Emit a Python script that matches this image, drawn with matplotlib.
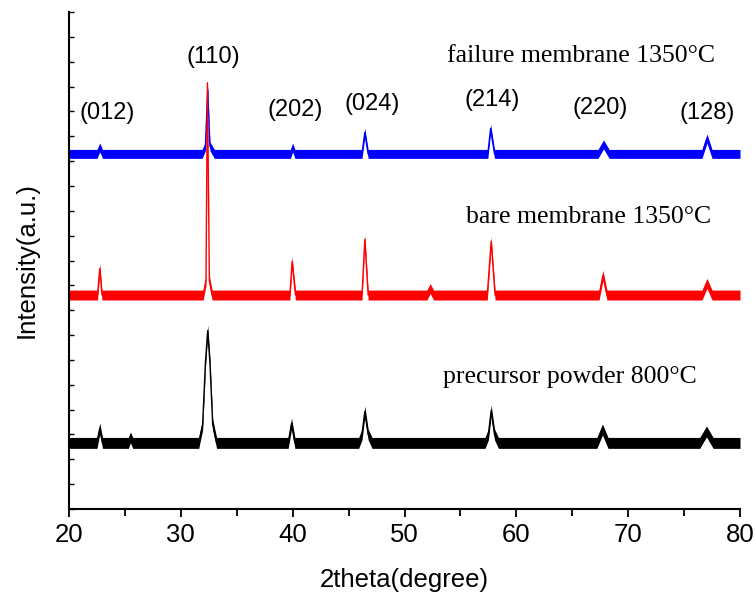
import matplotlib
matplotlib.use("Agg")
import matplotlib.pyplot as plt
from matplotlib.ticker import MultipleLocator

# ---------------- data ----------------
# failure membrane 1350 C (blue)
fail_x = [20.0, 22.5, 22.75, 23.0, 31.9, 32.2, 32.4, 32.6, 33.0, 39.8, 40.0, 40.2,
          46.2, 46.45, 46.75, 57.45, 57.7, 58.05, 67.3, 67.8, 68.3, 76.6, 77.05, 77.5, 80.0]
fail_y = [14.29, 14.29, 14.55, 14.29, 14.29, 14.6, 16.85, 14.6, 14.29, 14.29, 14.55, 14.29,
          14.29, 15.15, 14.29, 14.29, 15.31, 14.29, 14.29, 14.67, 14.29, 14.29, 14.91, 14.29, 14.29]

# bare membrane 1350 C (red)
bare_x = [20.0, 22.55, 22.75, 22.95, 32.0, 32.25, 32.38, 32.55, 32.8, 39.75, 39.95, 40.25,
          46.2, 46.45, 46.75, 52.0, 52.3, 52.6, 57.4, 57.75, 58.1, 67.4, 67.75, 68.1,
          76.6, 77.05, 77.5, 80.0]
bare_y = [8.61, 8.61, 9.68, 8.61, 8.61, 9.2, 17.15, 9.2, 8.61, 8.61, 9.96, 8.61,
          8.61, 10.85, 8.61, 8.61, 8.87, 8.61, 8.61, 10.77, 8.61, 8.61, 9.40, 8.61,
          8.61, 9.08, 8.61, 8.61]

# precursor powder 800 C (black)
prec_x = [20.0, 22.5, 22.75, 23.0, 25.3, 25.5, 25.7, 31.6, 31.95, 32.2, 32.4, 32.6, 32.85,
          33.2, 39.6, 39.9, 40.2, 45.9, 46.2, 46.45, 46.75, 47.1, 57.2, 57.5, 57.75, 58.05,
          58.4, 67.2, 67.7, 68.2, 76.4, 77.0, 77.6, 80.0]
prec_y = [2.66, 2.66, 3.24, 2.66, 2.66, 2.88, 2.66, 2.66, 3.4, 5.9, 7.18, 5.9, 3.4,
          2.66, 2.66, 3.44, 2.66, 2.66, 3.0, 3.92, 3.0, 2.66, 2.66, 3.0, 3.96, 3.0,
          2.66, 2.66, 3.20, 2.66, 2.66, 3.12, 2.66, 2.66]

noise_amp = {"fail": 0.18, "bare": 0.2, "prec": 0.22}

series_labels = ["failure membrane 1350°C", "bare membrane 1350°C", "precursor powder 800°C"]
label_pos = [(53.8, 17.99), (55.5, 11.51), (53.4, 5.07)]

hkl_labels = ["(012)", "(110)", "(202)", "(024)", "(214)", "(220)", "(128)"]
hkl_x = [23.4, 32.9, 40.2, 47.1, 57.8, 67.5, 77.1]
hkl_y = [15.94, 18.19, 16.06, 16.30, 16.46, 16.14, 15.94]

# ---------------- figure ----------------
fig = plt.figure(figsize=(7.56, 5.97), dpi=100)
ax = fig.add_axes([69/756, 1-509/597, (740-69)/756, (509-12)/597])

def draw(x, y, amp, color):
    lo = [v - amp for v in y]
    hi = [v + amp for v in y]
    ax.fill_between(x, lo, hi, color=color, linewidth=0)
    ax.plot(x, y, color=color, lw=1.0)

draw(fail_x, fail_y, noise_amp["fail"], "#0000ff")
draw(bare_x, bare_y, noise_amp["bare"], "#ff0000")
draw(prec_x, prec_y, noise_amp["prec"], "#000000")

ax.set_xlim(20, 80)
ax.set_ylim(0, 20)

for s in ("top", "right"):
    ax.spines[s].set_visible(False)
for s in ("left", "bottom"):
    ax.spines[s].set_linewidth(1.5)

ax.xaxis.set_major_locator(MultipleLocator(10))
ax.xaxis.set_minor_locator(MultipleLocator(5))
ax.yaxis.set_major_locator(MultipleLocator(1))
ax.tick_params(axis="x", which="major", direction="out", length=6, width=1.3,
               labelsize=18.5, pad=4)
ax.tick_params(axis="x", which="minor", direction="out", length=5, width=1.3)
ax.tick_params(axis="y", which="major", direction="in", length=3.5, width=1.0,
               labelleft=False)
for lab in ax.get_xticklabels():
    lab.set_fontfamily("Liberation Sans")

ax.set_xlabel("2theta(degree)", fontsize=18.5, family="Liberation Sans", labelpad=15)
ax.set_ylabel("Intensity(a.u.)", fontsize=18.5, family="Liberation Sans", labelpad=22)

for t, (px, py) in zip(series_labels, label_pos):
    ax.text(px, py, t, fontsize=18.5, family="Liberation Serif", ha="left", va="baseline")

for t, px, py in zip(hkl_labels, hkl_x, hkl_y):
    ax.text(px, py, t, fontsize=17, family="Liberation Sans", ha="center", va="center")

fig.savefig("out.png", dpi=100)
